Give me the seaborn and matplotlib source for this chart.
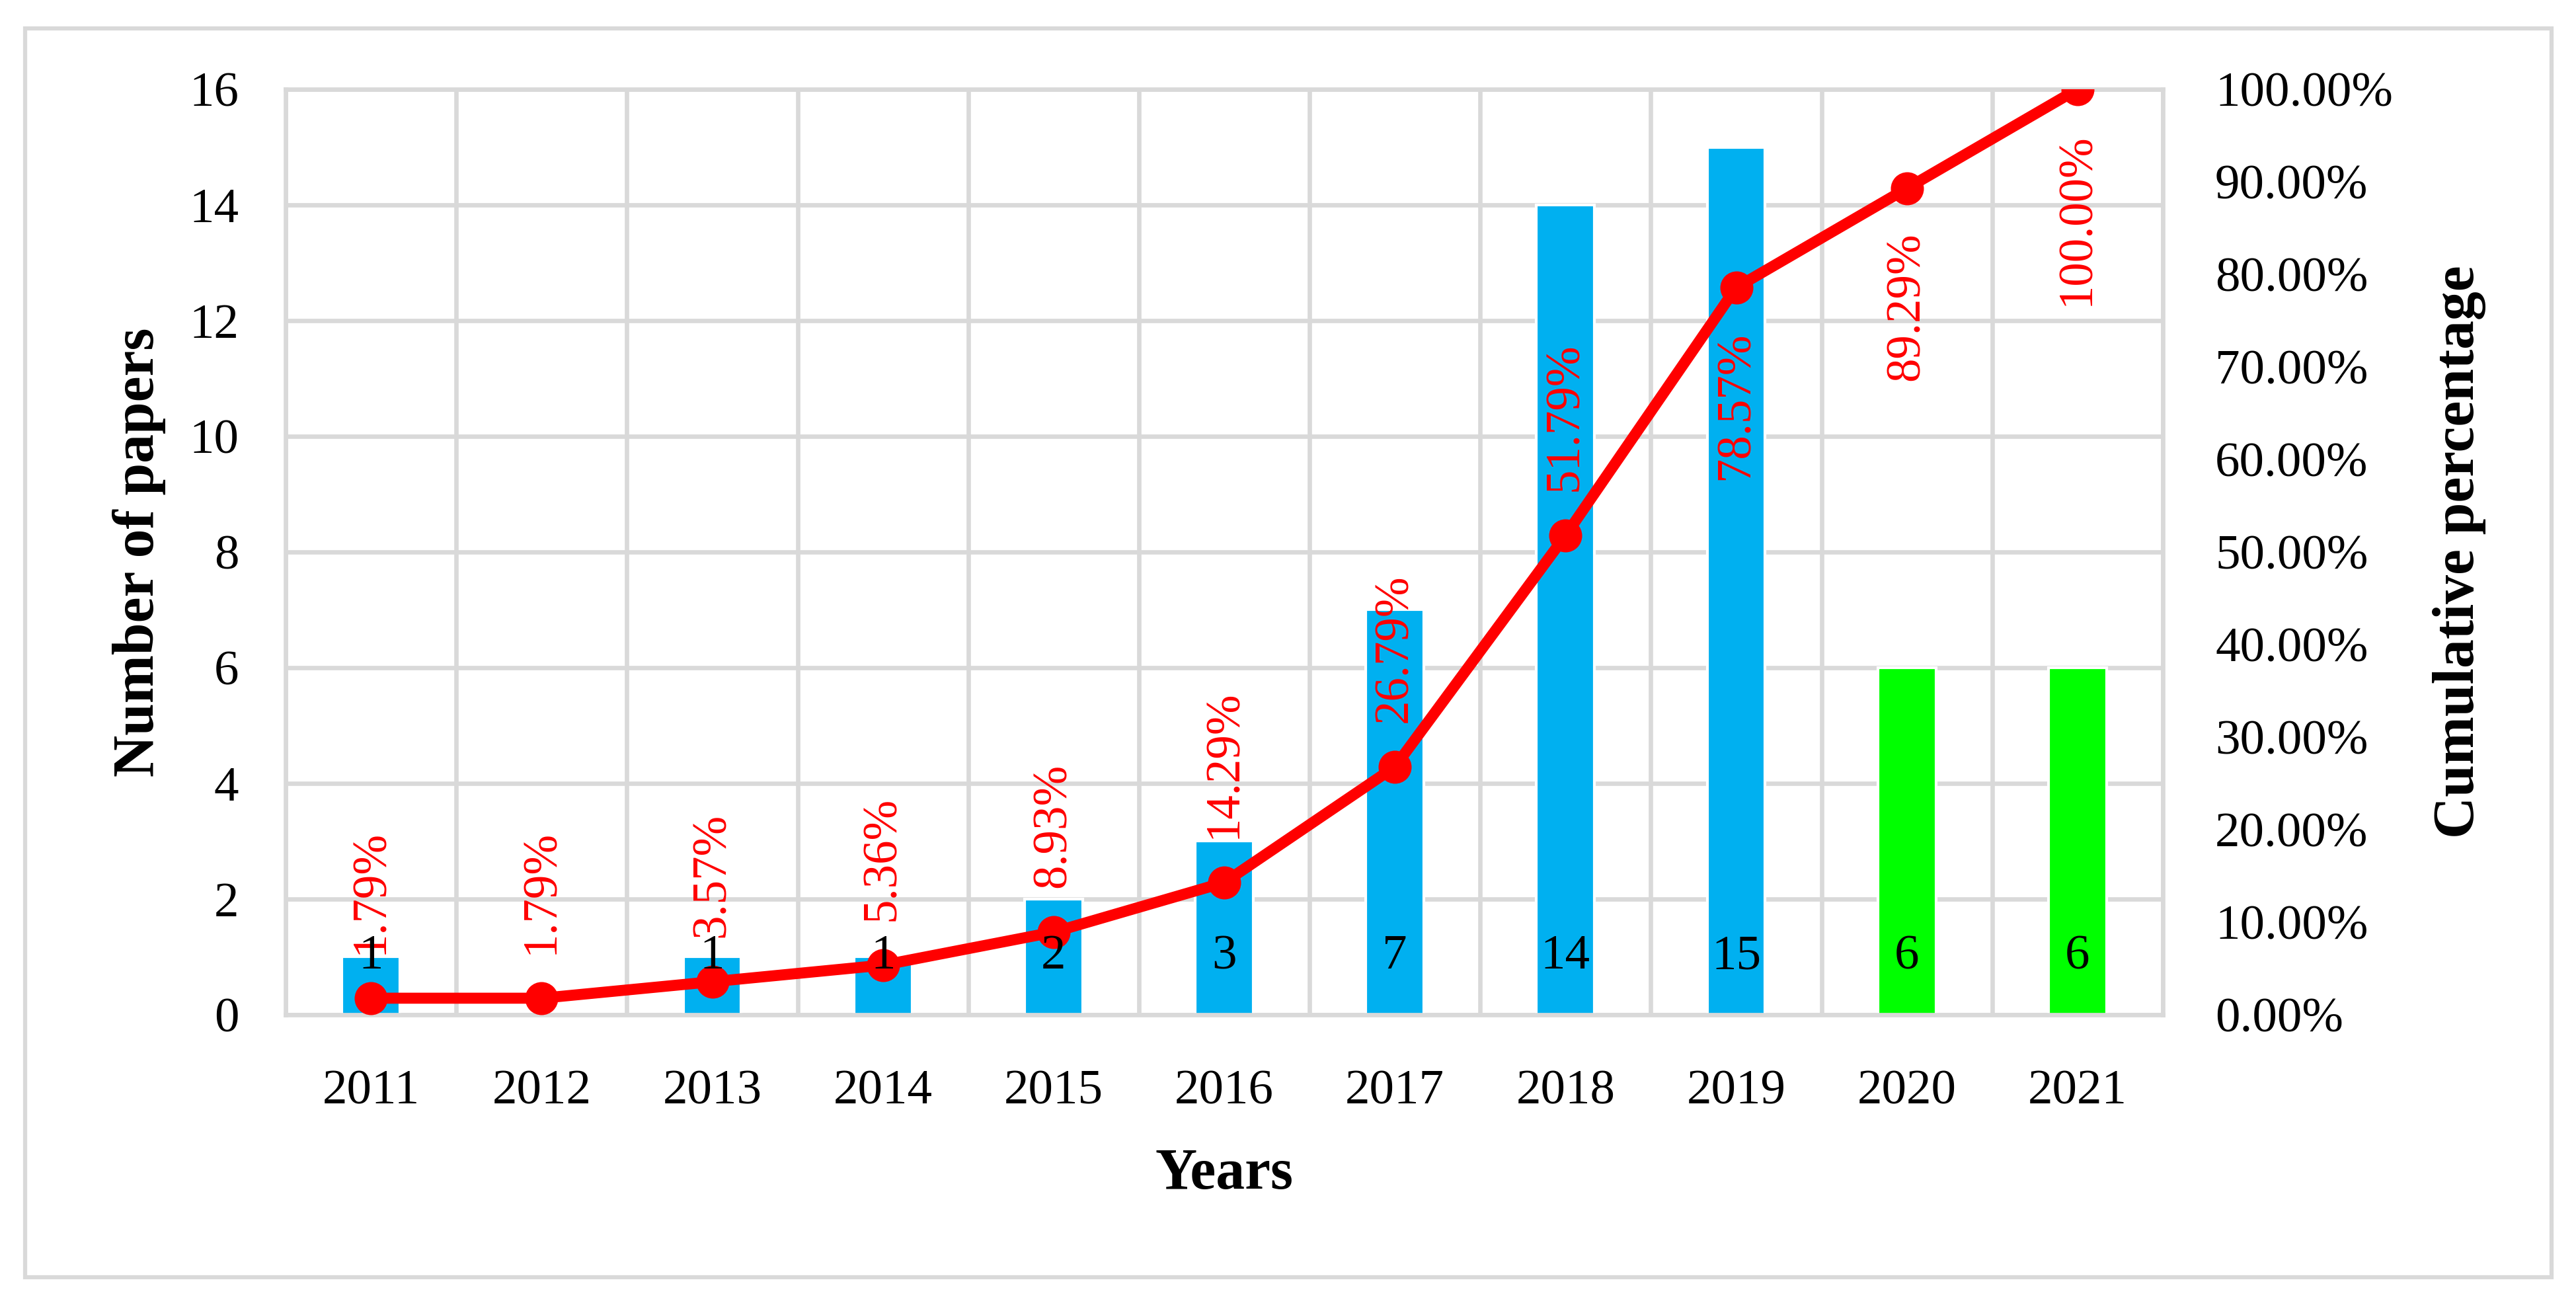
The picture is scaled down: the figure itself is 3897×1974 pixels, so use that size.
import numpy as np
import matplotlib
matplotlib.use("Agg")
import matplotlib.pyplot as plt
from matplotlib.patches import Rectangle
from matplotlib.ticker import FuncFormatter, MultipleLocator
import seaborn as sns

# data
years = ["2011", "2012", "2013", "2014", "2015", "2016",
         "2017", "2018", "2019", "2020", "2021"]
papers = [1, 0, 1, 1, 2, 3, 7, 14, 15, 6, 6]
cum_pct = [1.79, 1.79, 3.57, 5.36, 8.93, 14.29, 26.79, 51.79, 78.57, 89.29, 100.00]
bar_colors = ["#00B0F0"] * 9 + ["#00FF00"] * 2
label_side = ["above"] * 8 + ["below"] * 3

GRID = "#D9D9D9"
RED = "#FF0000"

sns.set_theme(style="white")
plt.rcParams["font.family"] = ["Liberation Serif", "DejaVu Serif"]
plt.rcParams["text.color"] = "black"

fig = plt.figure(figsize=(12.99, 6.58), dpi=300)
ax = fig.add_axes([0.1109, 0.2224, 0.7287, 0.7092])

sns.barplot(x=years, y=papers, hue=years, palette=bar_colors, legend=False,
            width=0.34, saturation=1, ax=ax, zorder=2)

ax.set_xlim(-0.5, len(years) - 0.5)
ax.set_ylim(0, 16)
ax.yaxis.set_major_locator(MultipleLocator(2))
ax.set_xticks(np.arange(-0.5, len(years), 1), minor=True)
ax.grid(axis="y", which="major", color=GRID, lw=1.6, zorder=0)
ax.grid(axis="x", which="minor", color=GRID, lw=1.6, zorder=0)
ax.set_axisbelow(True)
ax.tick_params(axis="both", which="both", length=0, labelsize=18, colors="black")
ax.tick_params(axis="x", pad=20)
ax.tick_params(axis="y", pad=17)
ax.set_xlabel("")
ax.set_ylabel("")
for s in ax.spines.values():
    s.set_color(GRID)
    s.set_linewidth(1.6)

ax2 = ax.twinx()
sns.lineplot(x=np.arange(len(years)), y=cum_pct, ax=ax2, color=RED, lw=4,
             marker="o", markersize=12, markeredgewidth=0, zorder=3)
ax2.set_ylim(0, 100)
ax2.yaxis.set_major_locator(MultipleLocator(10))
ax2.yaxis.set_major_formatter(FuncFormatter(lambda v, _: f"{v:.2f}%"))
ax2.tick_params(axis="y", length=0, labelsize=18, pad=19, colors="black")
ax2.set_ylabel("")
ax2.grid(False)
for s in ax2.spines.values():
    s.set_visible(False)

# cumulative percentage labels, rotated
for i, (v, side) in enumerate(zip(cum_pct, label_side)):
    off = 16 if side == "above" else -16
    ax2.annotate(f"{v:.2f}%", (i, v), xytext=(0, off), textcoords="offset points",
                 rotation=90, ha="center", va="bottom" if side == "above" else "top",
                 color=RED, fontsize=17.5, zorder=6)

# bar value labels near the base
for i, n in enumerate(papers):
    if n > 0:
        ax2.text(i, 1, str(n), transform=ax.transData, ha="center", va="center",
                 fontsize=18, color="black", zorder=7)

fig.text(0.4752, 0.0998, "Years", ha="center", va="center",
         fontsize=21, fontweight="bold", color="black")
fig.text(0.0541, 0.5770, "Number of papers", ha="center", va="center",
         rotation=90, fontsize=21, fontweight="bold", color="black")
fig.text(0.9546, 0.5770, "Cumulative percentage", ha="center", va="center",
         rotation=90, fontsize=21, fontweight="bold", color="black")

fig.patches.append(Rectangle((0.00975, 0.0213), 0.9808, 0.9569, transform=fig.transFigure,
                             fill=False, edgecolor=GRID, lw=1.5, zorder=0))

fig.savefig("out.png", dpi=300, facecolor="white")
